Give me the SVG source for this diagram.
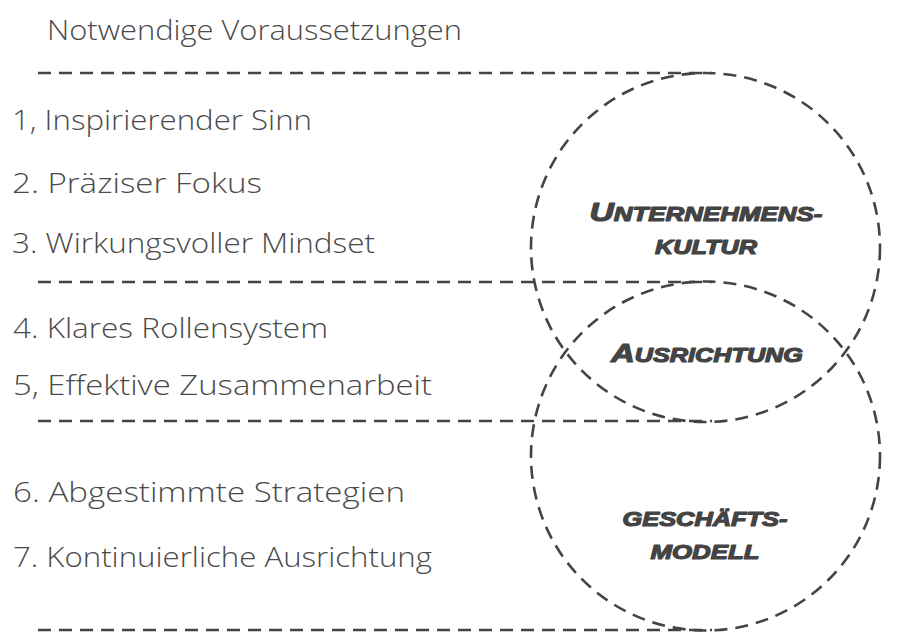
<svg xmlns="http://www.w3.org/2000/svg" width="900" height="643" viewBox="0 0 900 643">
<style>
.bg{fill:#ffffff}
.dash{fill:none;stroke:#444;stroke-width:2.6;stroke-dasharray:13 8}
.item{font-family:"Open Sans","Liberation Sans",sans-serif;font-weight:300;font-size:28px;fill:#4a4a4a}
.lbl{font-family:"Liberation Sans",sans-serif;font-weight:bold;font-style:italic;font-size:20px;fill:#444;stroke:#444;stroke-width:1.2;stroke-linejoin:round;text-anchor:middle}
.big{font-size:26px}
</style>
<rect class="bg" x="0" y="0" width="900" height="643"/>
<g id="connectors">
<line class="dash" x1="38" y1="73" x2="712" y2="73"/>
<line class="dash" x1="38" y1="282" x2="712" y2="282"/>
<line class="dash" x1="38" y1="421" x2="712" y2="421"/>
<line class="dash" x1="38" y1="630" x2="712" y2="630"/>
</g>
<g id="title">
<text class="item" x="47" y="40" textLength="415" lengthAdjust="spacingAndGlyphs">Notwendige Voraussetzungen</text>
</g>
<g id="items">
<text class="item" x="12" y="130" textLength="300" lengthAdjust="spacingAndGlyphs">1, Inspirierender Sinn</text>
<text class="item" x="12" y="193" textLength="250" lengthAdjust="spacingAndGlyphs">2. Präziser Fokus</text>
<text class="item" x="12" y="253" textLength="363" lengthAdjust="spacingAndGlyphs">3. Wirkungsvoller Mindset</text>
<text class="item" x="13" y="338" textLength="315" lengthAdjust="spacingAndGlyphs">4. Klares Rollensystem</text>
<text class="item" x="13" y="395" textLength="419" lengthAdjust="spacingAndGlyphs">5, Effektive Zusammenarbeit</text>
<text class="item" x="13" y="502" textLength="392" lengthAdjust="spacingAndGlyphs">6. Abgestimmte Strategien</text>
<text class="item" x="13" y="567" textLength="419" lengthAdjust="spacingAndGlyphs">7. Kontinuierliche Ausrichtung</text>
</g>
<g id="circle-kultur">
<circle class="dash" cx="705.5" cy="247.5" r="174.5"/>
<text class="lbl" x="706" y="221" textLength="233" lengthAdjust="spacingAndGlyphs"><tspan class="big">U</tspan>NTERNEHMENS-</text>
<text class="lbl" x="706" y="254" textLength="102" lengthAdjust="spacingAndGlyphs">KULTUR</text>
</g>
<g id="circle-geschaeft">
<circle class="dash" cx="705.5" cy="456" r="174.5"/>
<text class="lbl" x="705" y="526" textLength="165" lengthAdjust="spacingAndGlyphs">GESCHÄFTS-</text>
<text class="lbl" x="705" y="559" textLength="109" lengthAdjust="spacingAndGlyphs">MODELL</text>
</g>
<g id="ausrichtung">
<text class="lbl" x="707" y="362" textLength="192" lengthAdjust="spacingAndGlyphs"><tspan class="big">A</tspan>USRICHTUNG</text>
</g>
</svg>
